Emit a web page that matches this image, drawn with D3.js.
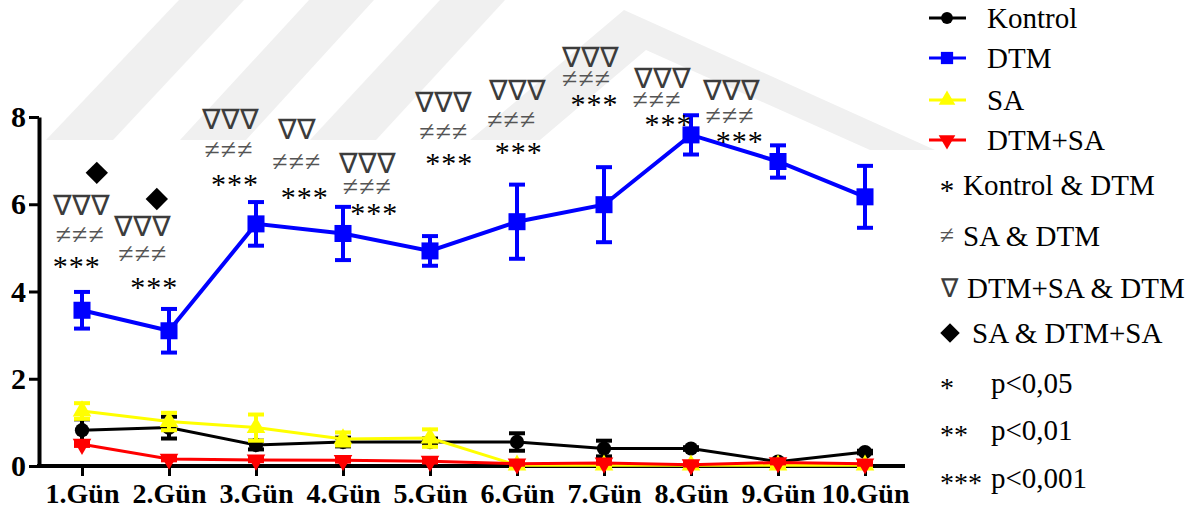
<!DOCTYPE html>
<html>
<head>
<meta charset="utf-8">
<script src="https://cdn.jsdelivr.net/npm/d3@7"></script>
<style>
  body { margin: 0; background: #fff; }
  svg { display: block; }
</style>
</head>
<body>
<svg id="chart" width="1204" height="516" font-family="Liberation Serif"></svg>
<script>
// --- data ---
var days = ["1.Gün", "2.Gün", "3.Gün", "4.Gün", "5.Gün", "6.Gün", "7.Gün", "8.Gün", "9.Gün", "10.Gün"];

var kontrol    = [0.82, 0.88, 0.48, 0.55, 0.55, 0.55, 0.40, 0.40, 0.10, 0.32];
var kontrolErr = [0.25, 0.25, 0.10, 0.10, 0.08, 0.20, 0.18, 0.03, 0.03, 0.03];
var dtm        = [3.57, 3.10, 5.55, 5.33, 4.93, 5.60, 5.99, 7.59, 6.98, 6.17];
var dtmErr     = [0.42, 0.50, 0.50, 0.61, 0.34, 0.85, 0.86, 0.45, 0.37, 0.71];
var sa         = [1.26, 1.02, 0.88, 0.62, 0.64, 0.02, 0.02, 0.02, 0.02, 0.02];
var saErr      = [0.18, 0.20, 0.30, 0.15, 0.20, 0.02, 0.02, 0.02, 0.02, 0.02];
var dtmsa      = [0.50, 0.16, 0.14, 0.13, 0.11, 0.05, 0.07, 0.03, 0.08, 0.05];
var dtmsaErr   = [0.04, 0.03, 0.03, 0.03, 0.03, 0.02, 0.02, 0.02, 0.02, 0.02];

var yTicks = [0, 2, 4, 6, 8];

// significance marks above the days (x as day position, y in data units)
var triText = ["∇∇∇", "∇∇∇", "∇∇∇", "∇∇", "∇∇∇", "∇∇∇", "∇∇∇", "∇∇∇", "∇∇∇", "∇∇∇"];
var triDay  = [0.99, 1.70, 2.71, 3.47, 4.28, 5.16, 6.00, 6.84, 7.67, 8.47];
var triY    = [5.99, 5.50, 7.96, 7.73, 6.95, 8.35, 8.62, 9.38, 8.90, 8.62];
var neqDay  = [0.98, 1.70, 2.69, 3.47, 4.28, 5.16, 5.94, 6.80, 7.61, 8.45];
var neqY    = [5.30, 4.86, 7.25, 6.97, 6.40, 7.66, 7.94, 8.88, 8.39, 8.03];
var starDay = [0.94, 1.83, 2.76, 3.56, 4.36, 5.22, 6.02, 6.89, 7.74, 8.56];
var starY   = [4.70, 4.22, 6.58, 6.28, 5.92, 7.06, 7.32, 8.42, 7.96, 7.57];
var diamondDay = [1.17, 1.86];
var diamondY   = [6.72, 6.12];

var seriesNames = ["Kontrol", "DTM", "SA", "DTM+SA"];
var statLegend = ["Kontrol & DTM", "SA & DTM", "DTM+SA & DTM", "SA & DTM+SA"];
var pLegend = ["p<0,05", "p<0,01", "p<0,001"];
var pStars = ["*", "**", "***"];

var FONT = "Liberation Serif";
var svg = d3.select("#chart");

// faint watermark bands behind the plot
var wm = svg.append("g").attr("fill", "#f0f0f0");
[
  [[179,0],[244,0],[113,140],[46,140]],
  [[309,0],[374,0],[246,140],[180,140]],
  [[440,0],[505,0],[376,140],[310,140]],
  [[470,140],[624,10],[935,150],[870,150],[646,50],[540,140]]
].forEach(function(p) {
  wm.append("polygon").attr("points", p.map(function(d) { return d.join(","); }).join(" "));
});

var x = d3.scaleLinear().domain([1, 10]).range([82, 865]);
var y = d3.scaleLinear().domain([0, 8]).range([466, 117]);

// axes
var yAxis = svg.append("g")
  .attr("transform", "translate(39,0)")
  .call(d3.axisLeft(y).tickValues(yTicks).tickSize(10).tickSizeOuter(0).tickFormat(d3.format("d")));
yAxis.attr("font-family", FONT);
yAxis.select(".domain").attr("stroke-width", 4).attr("stroke", "#000");
yAxis.selectAll(".tick line").attr("stroke-width", 3);
yAxis.selectAll(".tick text")
  .attr("x", -13)
  .attr("font-size", 30)
  .attr("font-weight", "bold")
  .attr("font-family", FONT)
  .attr("fill", "#000");

var xAxis = svg.append("g")
  .attr("transform", "translate(0,466)")
  .call(d3.axisBottom(x).tickValues(d3.range(1, 11)).tickSize(10).tickSizeOuter(0)
    .tickFormat(function(d) { return days[d - 1]; }));
xAxis.attr("font-family", FONT);
xAxis.select(".domain").attr("d", "M37,0H905").attr("stroke-width", 4).attr("stroke", "#000");
xAxis.selectAll(".tick line").attr("stroke-width", 3);
xAxis.selectAll(".tick text")
  .attr("y", 17)
  .attr("font-size", 28)
  .attr("font-weight", "bold")
  .attr("font-family", FONT)
  .attr("fill", "#000");

// series
var series = [
  {name: "Kontrol", vals: kontrol, err: kontrolErr, color: "#000000", sym: d3.symbolCircle, size: 160, rot: 0, lw: 3},
  {name: "SA", vals: sa, err: saErr, color: "#ffff00", sym: d3.symbolTriangle, size: 150, rot: 0, lw: 3},
  {name: "DTM+SA", vals: dtmsa, err: dtmsaErr, color: "#ff0000", sym: d3.symbolTriangle, size: 150, rot: 180, lw: 3},
  {name: "DTM", vals: dtm, err: dtmErr, color: "#0000ff", sym: d3.symbolSquare, size: 290, rot: 0, lw: 4}
];

var line = d3.line()
  .x(function(d, i) { return x(i + 1); })
  .y(function(d) { return y(d); });

series.forEach(function(s) {
  var g = svg.append("g");
  g.append("path")
    .attr("d", line(s.vals))
    .attr("fill", "none")
    .attr("stroke", s.color)
    .attr("stroke-width", s.lw);

  var eb = g.selectAll(".eb").data(s.vals).enter().append("g");
  eb.append("line")
    .attr("x1", function(d, i) { return x(i + 1); })
    .attr("x2", function(d, i) { return x(i + 1); })
    .attr("y1", function(d, i) { return y(d + s.err[i]); })
    .attr("y2", function(d, i) { return y(d - s.err[i]); })
    .attr("stroke", s.color).attr("stroke-width", 4);
  [1, -1].forEach(function(sign) {
    eb.append("line")
      .attr("x1", function(d, i) { return x(i + 1) - 8; })
      .attr("x2", function(d, i) { return x(i + 1) + 8; })
      .attr("y1", function(d, i) { return y(d + sign * s.err[i]); })
      .attr("y2", function(d, i) { return y(d + sign * s.err[i]); })
      .attr("stroke", s.color).attr("stroke-width", 4);
  });

  g.selectAll(".pt").data(s.vals).enter().append("path")
    .attr("d", d3.symbol().type(s.sym).size(s.size))
    .attr("transform", function(d, i) {
      return "translate(" + x(i + 1) + "," + y(d) + ") rotate(" + s.rot + ")";
    })
    .attr("fill", s.color);
});

// significance marks
var marks = svg.append("g").attr("font-family", FONT);
marks.selectAll(".tri").data(triText).enter().append("text")
  .attr("x", function(d, i) { return x(triDay[i]); })
  .attr("y", function(d, i) { return y(triY[i]); })
  .attr("dy", "0.36em")
  .attr("text-anchor", "middle")
  .attr("font-size", 28)
  .attr("fill", "#3c3c3c")
  .text(function(d) { return d; });

marks.selectAll(".neq").data(neqY).enter().append("text")
  .attr("x", function(d, i) { return x(neqDay[i]); })
  .attr("y", function(d) { return y(d); })
  .attr("dy", "0.32em")
  .attr("text-anchor", "middle")
  .attr("font-size", 28)
  .attr("letter-spacing", 1)
  .attr("fill", "#555")
  .text("≠≠≠");

marks.selectAll(".star").data(starY).enter().append("text")
  .attr("x", function(d, i) { return x(starDay[i]); })
  .attr("y", function(d) { return y(d); })
  .attr("dy", "0.5em")
  .attr("text-anchor", "middle")
  .attr("font-size", 30)
  .attr("letter-spacing", 1)
  .attr("fill", "#000")
  .text("***");

marks.selectAll(".dia").data(diamondY).enter().append("path")
  .attr("d", d3.symbol().type(d3.symbolSquare).size(250))
  .attr("transform", function(d, i) {
    return "translate(" + x(diamondDay[i]) + "," + y(d) + ") rotate(45)";
  })
  .attr("fill", "#000");

// legend: series
var legColors = ["#000000", "#0000ff", "#ffff00", "#ff0000"];
var legSyms = [d3.symbolCircle, d3.symbolSquare, d3.symbolTriangle, d3.symbolTriangle];
var legSizes = [110, 150, 120, 120];
var legRot = [0, 0, 0, 180];
var legY = [18, 58, 100, 140];
var leg = svg.append("g").attr("font-family", FONT);
seriesNames.forEach(function(n, i) {
  leg.append("line")
    .attr("x1", 929).attr("x2", 966)
    .attr("y1", legY[i]).attr("y2", legY[i])
    .attr("stroke", legColors[i]).attr("stroke-width", 3);
  leg.append("path")
    .attr("d", d3.symbol().type(legSyms[i]).size(legSizes[i]))
    .attr("transform", "translate(947," + legY[i] + ") rotate(" + legRot[i] + ")")
    .attr("fill", legColors[i]);
  leg.append("text")
    .attr("x", 987).attr("y", legY[i]).attr("dy", "0.35em")
    .attr("font-size", 29).attr("fill", "#000")
    .text(n);
});

// legend: comparisons
var statY = [185, 236, 288, 333];
leg.append("text").attr("x", 947).attr("y", statY[0]).attr("dy", "0.5em")
  .attr("text-anchor", "middle").attr("font-size", 29).text("*");
leg.append("text").attr("x", 947).attr("y", statY[1]).attr("dy", "0.32em")
  .attr("text-anchor", "middle").attr("font-size", 26).attr("fill", "#555").text("≠");
leg.append("text").attr("x", 949).attr("y", statY[2]).attr("dy", "0.36em")
  .attr("text-anchor", "middle").attr("font-size", 26)
  .attr("fill", "#3c3c3c").text("∇");
leg.append("path")
  .attr("d", d3.symbol().type(d3.symbolSquare).size(190))
  .attr("transform", "translate(950," + statY[3] + ") rotate(45)")
  .attr("fill", "#000");
var statX = [963, 963, 967, 972];
statLegend.forEach(function(t, i) {
  leg.append("text")
    .attr("x", statX[i]).attr("y", statY[i]).attr("dy", "0.35em")
    .attr("font-size", 29).attr("fill", "#000")
    .text(t);
});

// legend: p values
var pY = [383, 430, 478];
pLegend.forEach(function(t, i) {
  leg.append("text")
    .attr("x", 940).attr("y", pY[i]).attr("dy", "0.5em")
    .attr("font-size", 28).attr("letter-spacing", 0)
    .text(pStars[i]);
  leg.append("text")
    .attr("x", 991).attr("y", pY[i]).attr("dy", "0.35em")
    .attr("font-size", 29).attr("fill", "#000")
    .text(t);
});
</script>
</body>
</html>
